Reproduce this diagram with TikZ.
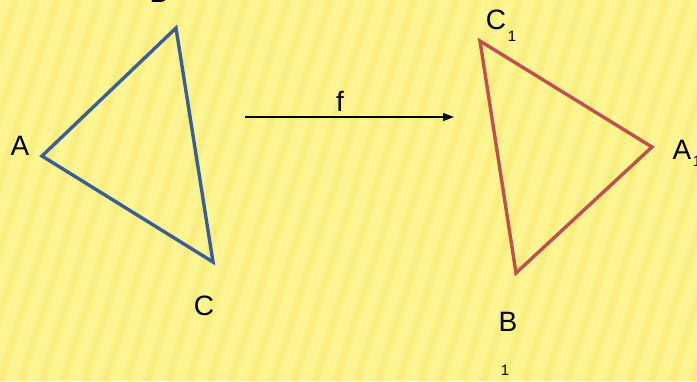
\documentclass[tikz,border=0pt]{standalone}
\usepackage{fontspec}
\setmainfont{Liberation Sans}
\usetikzlibrary{arrows.meta}
\definecolor{bgA}{HTML}{FCF592}
\definecolor{bgB}{HTML}{F8E872}
\definecolor{triblue}{HTML}{3B5E98}
\definecolor{trired}{HTML}{C0504D}
\tikzset{
  lbl/.style={font=\fontsize{28}{32}\selectfont, inner sep=0pt, text=black},
  sub/.style={font=\fontsize{15}{18}\selectfont, inner sep=0pt, text=black},
  bluetri/.style={draw=triblue, line width=3.4pt, line join=miter},
  redtri/.style={draw=trired, line width=3.4pt, line join=miter},
  maparrow/.style={draw=black, line width=1.3pt, -{Triangle[length=11pt,width=8pt]}},
}
\begin{document}
\begin{tikzpicture}[x=1pt,y=-1pt]
\useasboundingbox (0,0) rectangle (697,381);
\clip (0,0) rectangle (697,381);
\fill[bgA] (0,0) rectangle (697,381);
\foreach \i in {-8,...,40}{
  \draw[bgB, line width=10pt, opacity=0.3] ({\i*21},381) -- ({\i*21+120},0);
  \draw[bgB, line width=5pt, opacity=0.35] ({\i*21},381) -- ({\i*21+120},0);
}
% left triangle
\coordinate (A) at (42,156);
\coordinate (B) at (176,28);
\coordinate (C) at (213,262);
\draw[bluetri] (A) -- (B) -- (C) -- cycle;
\node[lbl] (la) at (20,146) {A};
\node[lbl, anchor=base] (lb) at (159,2) {B};
\node[lbl] (lc) at (204,306) {C};
% right triangle
\coordinate (C1) at (480,41);
\coordinate (A1) at (652,147);
\coordinate (B1) at (516,273);
\draw[redtri] (C1) -- (A1) -- (B1) -- cycle;
\node[lbl] (lc1) at (496,20) {C};
\node[sub] (lc1s) at (512,36) {1};
\node[lbl] (la1) at (682,150) {A};
\node[sub] (la1s) at (697,161) {1};
\node[lbl] (lb1) at (508,322) {B};
\node[sub] (lb1s) at (505,370) {1};
% arrow
\coordinate (fs) at (245,117);
\coordinate (fe) at (454,117);
\draw[maparrow] (fs) -- (fe);
\node[lbl] (lf) at (340,101) {f};
\end{tikzpicture}
\end{document}
